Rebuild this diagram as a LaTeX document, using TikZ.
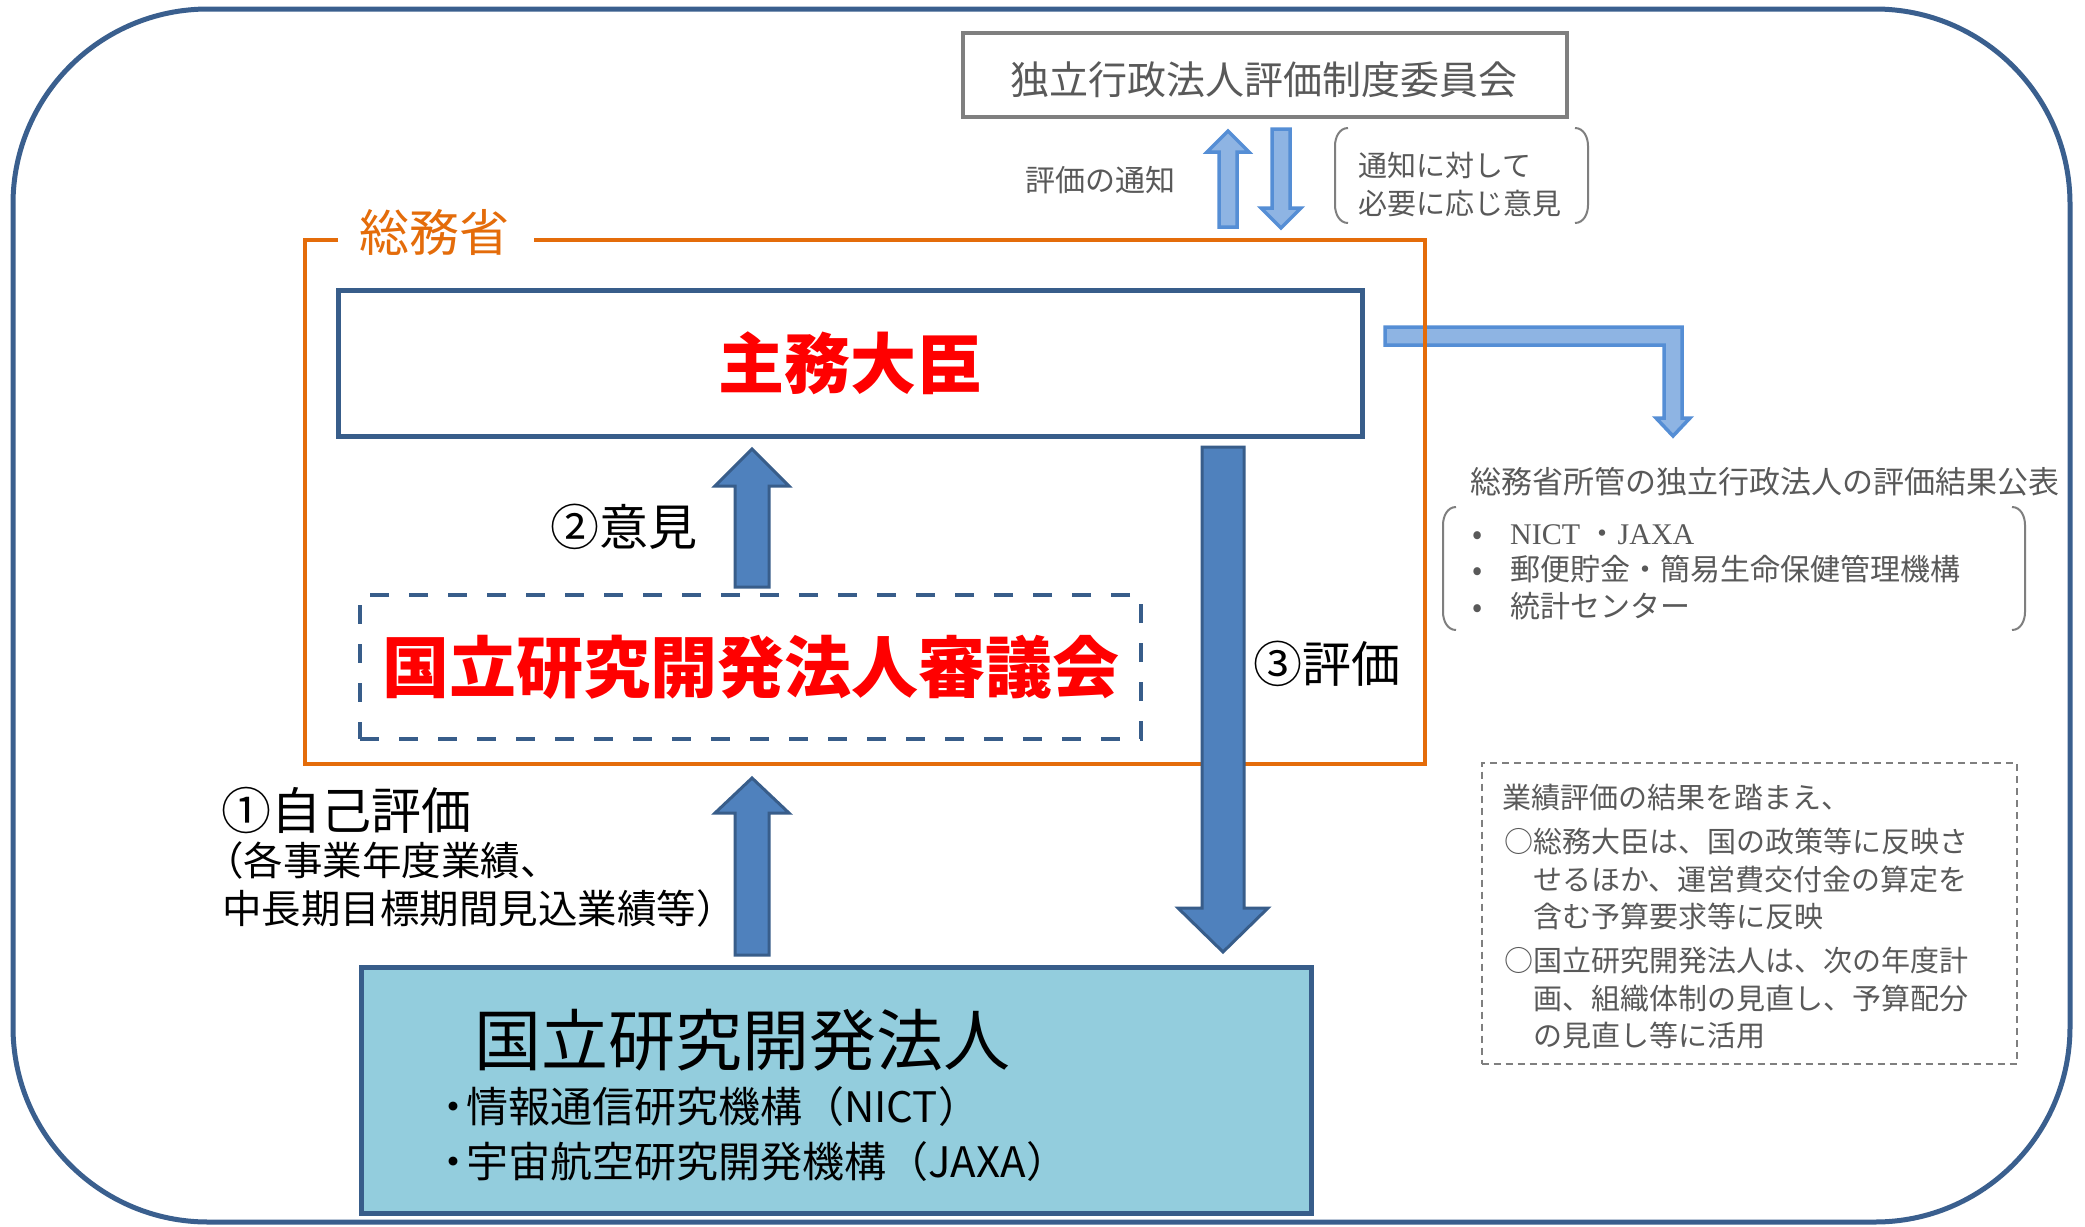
\documentclass[tikz,border=0pt]{standalone}
\usepackage{fontspec}
\setmainfont{Noto Sans CJK JP}
\newfontfamily\lserif{Liberation Serif}
\definecolor{frameblue}{HTML}{3A5F8E}
\definecolor{boxblue}{HTML}{385D8A}
\definecolor{arrfill}{HTML}{4F81BD}
\definecolor{lightfill}{HTML}{8EB4E3}
\definecolor{lightedge}{HTML}{558ED5}
\definecolor{orangeline}{HTML}{E46C0A}
\definecolor{txtgray}{HTML}{595959}
\definecolor{linegray}{HTML}{7F7F7F}
\definecolor{cyanfill}{HTML}{93CDDD}
\definecolor{redtxt}{HTML}{FF0000}
\newcommand{\fsz}[2]{\fontsize{#1}{#2}\selectfont}
\begin{document}
\begin{tikzpicture}[x=1pt,y=-1pt,
  bigarrow/.style={fill=arrfill,draw=boxblue,line width=3,line join=miter},
  lightarrow/.style={fill=lightfill,draw=lightedge,line width=3.5,line join=miter},
  graytxt/.style={text=txtgray,inner sep=0},
  blacktxt/.style={text=black,inner sep=0},
  bracketline/.style={draw=linegray,line width=2},
]
\useasboundingbox (0,0) rectangle (2085,1226);
\fill[white] (0,0) rectangle (2085,1226);

% outer frame
\draw[draw=frameblue,line width=5,rounded corners=195] (13,9) rectangle (2070,1222);

% committee box
\node[draw=linegray,line width=4,minimum width=604,minimum height=84,inner sep=0] (iac) at (1265,75) {};
\node[graytxt,font=\fsz{39}{44}] (iact) at (1264,80) {独立行政法人評価制度委員会};

% light arrows between committee and ministry
\draw[lightarrow] (1219,227) -- (1219,152) -- (1207,152) -- (1228,131) -- (1249,152) -- (1237,152) -- (1237,227) -- cycle;
\draw[lightarrow] (1272,129) -- (1290,129) -- (1290,208) -- (1301,208) -- (1281,228) -- (1261,208) -- (1272,208) -- cycle;
\node[graytxt,font=\fsz{30}{36}] (notice) at (1100,180) {評価の通知};
\node[graytxt,font=\fsz{29}{38},align=left,anchor=west] (resp) at (1358,184) {通知に対して\\必要に応じ意見};
\draw[bracketline] (1348,128) to[out=180,in=90] (1335,146) -- (1335,205) to[out=-90,in=180] (1348,223);
\draw[bracketline] (1575,128) to[out=0,in=90] (1588,146) -- (1588,205) to[out=-90,in=0] (1575,223);

% L arrow to publication
\draw[lightarrow] (1385,327) -- (1682,327) -- (1682,418) -- (1690,418) -- (1673,436) -- (1656,418) -- (1664,418) -- (1664,345) -- (1385,345) -- cycle;

% ministry frame
\draw[orangeline,line width=4] (338,240) -- (305,240) -- (305,764) -- (1425,764) -- (1425,240) -- (534,240);
\node[inner sep=0,text=orangeline,font=\fsz{50}{54}] (somu) at (434,232) {総務省};

% minister
\node[draw=boxblue,line width=5,fill=white,minimum width=1024,minimum height=146,inner sep=0,text=redtxt,font={\fsz{66}{70}\bfseries}] (minister) at (850,363) {主務大臣};

% council
\node[draw=boxblue,line width=4,dash pattern=on 19pt off 20pt,minimum width=781,minimum height=144,inner sep=0,text=redtxt,font={\fsz{67}{72}\bfseries}] (council) at (750.5,667) {国立研究開発法人審議会};

% arrow 2
\draw[bigarrow] (735,587) -- (735,486) -- (715,486) -- (752,449) -- (789,486) -- (769,486) -- (769,587) -- cycle;
\node[blacktxt,font=\fsz{49}{52}] (op2) at (624,527) {②意見};

% arrow 3
\draw[bigarrow] (1202,447) -- (1244,447) -- (1244,908) -- (1268,908) -- (1223,952) -- (1178,908) -- (1202,908) -- cycle;
\node[blacktxt,font=\fsz{49}{52}] (op3) at (1327,664) {③評価};

% arrow 1
\draw[bigarrow] (735,955) -- (735,813) -- (715,813) -- (752,778) -- (789,813) -- (769,813) -- (769,955) -- cycle;
\node[blacktxt,font=\fsz{50}{54},anchor=west] (self) at (221,810) {①自己評価};
\node[blacktxt,font=\fsz{39.5}{48},anchor=west,align=left] (selfd) at (222,884) {\hspace*{-0.45em}（各事業年度業績、\\中長期目標期間見込業績等）};

% national R&D agencies
\node[draw=boxblue,line width=5,fill=cyanfill,minimum width=950,minimum height=246,inner sep=0] (nrdi) at (836,1090) {};
\node[blacktxt,anchor=west,font=\fsz{67}{72}] (nrdit) at (474,1040) {国立研究開発法人};
\node[blacktxt,anchor=west,font=\fsz{42}{46}] (nict) at (440,1107) {\makebox[26pt][c]{・}情報通信研究機構（NICT）};
\node[blacktxt,anchor=west,font=\fsz{42}{46}] (jaxa) at (440,1162) {\makebox[26pt][c]{・}宇宙航空研究開発機構（JAXA）};

% publication
\node[graytxt,font=\fsz{31}{36}] (pub) at (1765,482) {総務省所管の独立行政法人の評価結果公表};
\draw[bracketline] (1456,507) to[out=180,in=90] (1443,525) -- (1443,612) to[out=-90,in=180] (1456,630);
\draw[bracketline] (2012,507) to[out=0,in=90] (2025,525) -- (2025,612) to[out=-90,in=0] (2012,630);
\node[graytxt,font=\fsz{30}{36.5},align=left,anchor=west] (publist) at (1463,572) {\makebox[28pt][c]{•}\hspace*{19pt}{\lserif NICT }・{\lserif JAXA}\\\makebox[28pt][c]{•}\hspace*{19pt}郵便貯金・簡易生命保健管理機構\\\makebox[28pt][c]{•}\hspace*{19pt}統計センター};

% results box
\node[draw=linegray,line width=2,dash pattern=on 7pt off 5pt,minimum width=535,minimum height=301,inner sep=0] (result) at (1749,913) {};
\node[graytxt,font=\fsz{29}{37.5},anchor=west] (r1) at (1502,798) {業績評価の結果を踏まえ、};
\node[graytxt,font=\fsz{29}{37.5},anchor=west,align=left] (r2) at (1504,879) {○総務大臣は、国の政策等に反映さ\\\hspace*{1em}せるほか、運営費交付金の算定を\\\hspace*{1em}含む予算要求等に反映};
\node[graytxt,font=\fsz{29}{37.5},anchor=west,align=left] (r3) at (1504,998) {○国立研究開発法人は、次の年度計\\\hspace*{1em}画、組織体制の見直し、予算配分\\\hspace*{1em}の見直し等に活用};
\end{tikzpicture}
\end{document}
